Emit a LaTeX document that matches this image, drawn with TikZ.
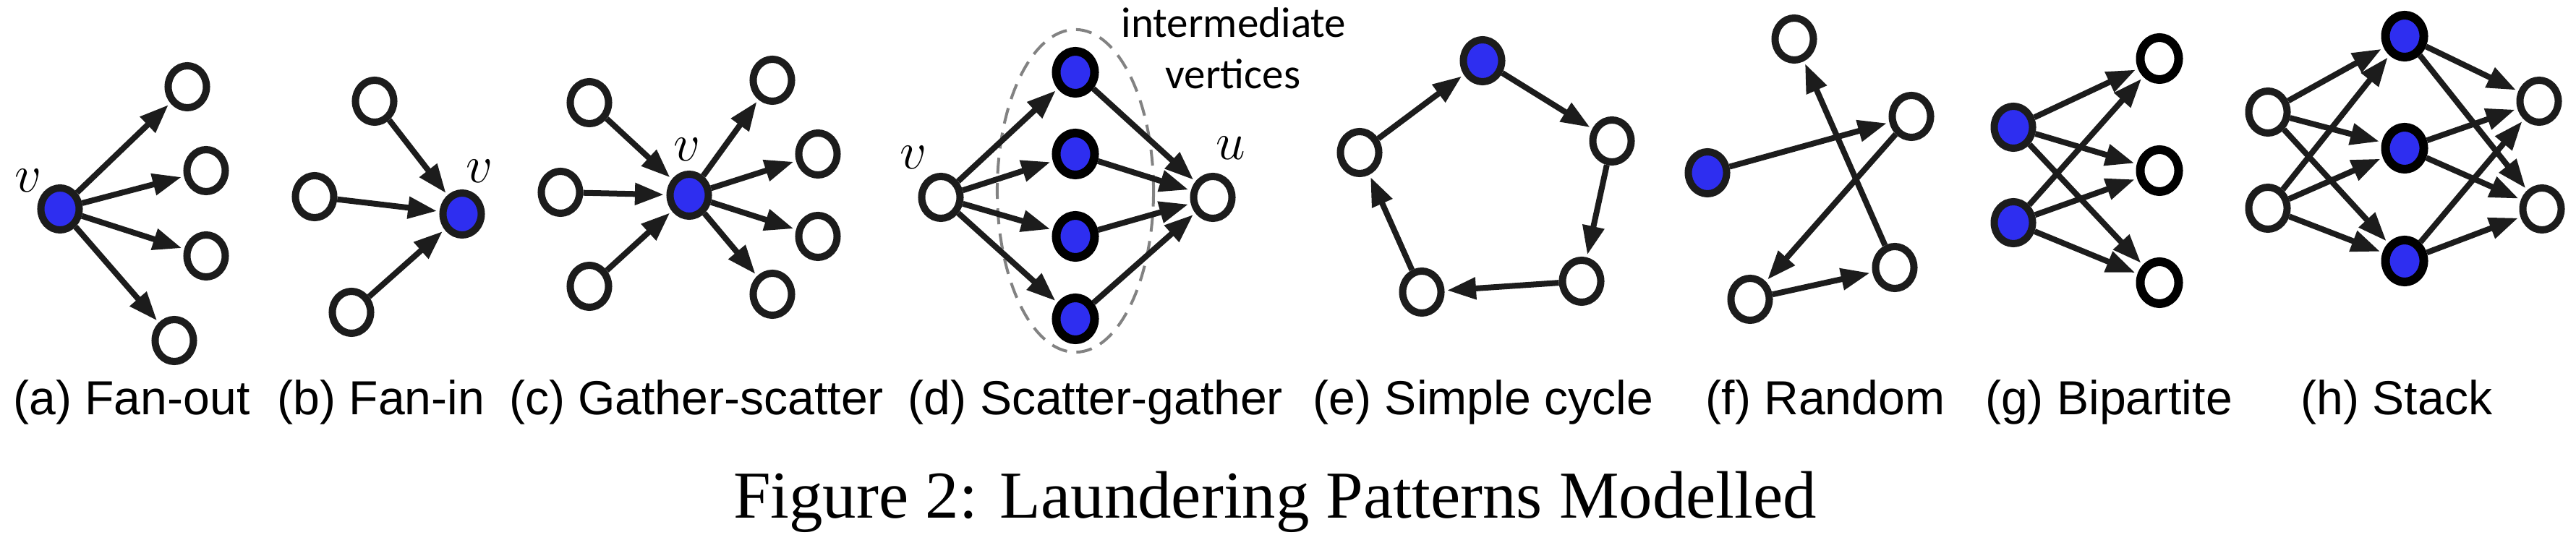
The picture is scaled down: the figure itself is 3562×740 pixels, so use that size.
\documentclass[tikz,border=0pt]{standalone}
\usepackage{fontspec}
\setmainfont{Liberation Serif}
\newfontfamily\capfont{Liberation Sans}
\newfontfamily\notefont{Carlito}
\usetikzlibrary{arrows.meta,shapes.geometric}
\definecolor{vblue}{RGB}{46,46,240}
\definecolor{ink}{RGB}{28,28,28}
\definecolor{ringgray}{RGB}{130,130,130}

\tikzset{
	vert/.style={ellipse, draw=ink, line width=0.1cm, fill=white, minimum width=0.53cm, minimum height=0.58cm, inner sep=0pt},
	hot/.style={vert, fill=vblue},
	bold/.style={draw=black, line width=0.12cm},
	edge/.style={draw=ink, line width=0.08cm, -{Triangle[length=0.4cm,width=0.29cm]}, shorten >=1pt},
	sublabel/.style={font=\capfont\fontsize{18.8}{22}\selectfont, anchor=base},
	mathlabel/.style={font=\fontsize{21}{25}\selectfont, inner sep=0pt},
}

\begin{document}
\begin{tikzpicture}[x=0.01cm, y=-0.01cm]
	\useasboundingbox (0,0) rectangle (3562,740);

	% (a) Fan-out
	\node[hot] (av) at (83,289) {};
	\node[vert] (a1) at (259,120) {};
	\node[vert] (a2) at (285,236) {};
	\node[vert] (a3) at (285,354) {};
	\node[vert] (a4) at (241,471) {};
	\node[mathlabel] (av_tag) at (39,250) {$v$};
	\foreach \t in {a1,a2,a3,a4}
		\draw[edge] (av) -- (\t);

	% (b) Fan-in
	\node[hot] (bv) at (639,296) {};
	\node[vert] (b1) at (518,140) {};
	\node[vert] (b2) at (435,272) {};
	\node[vert] (b3) at (486,432) {};
	\node[mathlabel] (bv_tag) at (663,237) {$v$};
	\foreach \s in {b1,b2,b3}
		\draw[edge] (\s) -- (bv);

	% (c) Gather-scatter
	\node[hot] (cv) at (953,270) {};
	\node[vert] (c1) at (815,142) {};
	\node[vert] (c2) at (775,266) {};
	\node[vert] (c3) at (815,396) {};
	\node[vert] (c4) at (1068,111) {};
	\node[vert] (c5) at (1131,213) {};
	\node[vert] (c6) at (1131,327) {};
	\node[vert] (c7) at (1068,407) {};
	\node[mathlabel] (cv_tag) at (950,207) {$v$};
	\foreach \s in {c1,c2,c3}
		\draw[edge] (\s) -- (cv);
	\foreach \t in {c4,c5,c6,c7}
		\draw[edge] (cv) -- (\t);

	% (d) Scatter-gather
	\node[draw=ringgray, line width=0.04cm, dash pattern=on 0.22cm off 0.13cm, ellipse, minimum width=2.16cm, minimum height=4.46cm] (group) at (1487,264) {};
	\node[vert] (dv) at (1301,273) {};
	\node[vert] (du) at (1677,273) {};
	\foreach \i/\y in {1/100,2/213,3/327,4/441}
		\node[hot, bold] (d\i) at (1487,\y) {};
	\node[mathlabel] (dv_tag) at (1263,218) {$v$};
	\node[mathlabel] (du_tag) at (1702,205) {$u$};
	\foreach \i in {1,...,4} {
		\draw[edge] (dv) -- (d\i);
		\draw[edge] (d\i) -- (du);
	}
	\node[font=\notefont\fontsize{16.8}{20}\selectfont, anchor=base] (note1) at (1706,52) {intermediate};
	\node[font=\notefont\fontsize{16.8}{20}\selectfont, anchor=base] (note2) at (1705,123) {vertices};

	% (e) Simple cycle
	\node[hot] (e1) at (2050,84) {};
	\node[vert] (e2) at (2229,195) {};
	\node[vert] (e3) at (2187,389) {};
	\node[vert] (e4) at (1966,404) {};
	\node[vert] (e5) at (1880,211) {};
	\draw[edge] (e1) -- (e2);
	\draw[edge] (e2) -- (e3);
	\draw[edge] (e3) -- (e4);
	\draw[edge] (e4) -- (e5);
	\draw[edge] (e5) -- (e1);

	% (f) Random
	\node[hot] (f1) at (2361,239) {};
	\node[vert] (f2) at (2643,161) {};
	\node[vert] (f3) at (2420,414) {};
	\node[vert] (f4) at (2620,370) {};
	\node[vert] (f5) at (2481,54) {};
	\draw[edge] (f1) -- (f2);
	\draw[edge] (f2) -- (f3);
	\draw[edge] (f3) -- (f4);
	\draw[edge] (f4) -- (f5);

	% (g) Bipartite
	\node[hot] (g1) at (2784,176) {};
	\node[hot] (g2) at (2784,308) {};
	\node[vert, bold] (g3) at (2986,81) {};
	\node[vert, bold] (g4) at (2986,236) {};
	\node[vert, bold] (g5) at (2986,391) {};
	\foreach \s in {g1,g2}
		\foreach \t in {g3,g4,g5}
			\draw[edge] (\s) -- (\t);

	% (h) Stack
	\node[vert] (h1) at (3136,155) {};
	\node[vert] (h2) at (3136,288) {};
	\node[hot, bold] (h3) at (3325,50) {};
	\node[hot, bold] (h4) at (3325,205) {};
	\node[hot, bold] (h5) at (3325,361) {};
	\node[vert] (h6) at (3511,140) {};
	\node[vert] (h7) at (3515,289) {};
	\foreach \m in {h3,h4,h5} {
		\foreach \s in {h1,h2}
			\draw[edge] (\s) -- (\m);
		\foreach \t in {h6,h7}
			\draw[edge] (\m) -- (\t);
	}

	% Sub-captions
	\node[sublabel] (cap_a) at (182,574) {(a) Fan-out};
	\node[sublabel] (cap_b) at (527,574) {(b) Fan-in};
	\node[sublabel] (cap_c) at (963,574) {(c) Gather-scatter};
	\node[sublabel] (cap_d) at (1515,574) {(d) Scatter-gather};
	\node[sublabel] (cap_e) at (2051,574) {(e) Simple cycle};
	\node[sublabel] (cap_f) at (2524,574) {(f) Random};
	\node[sublabel] (cap_g) at (2916,574) {(g) Bipartite};
	\node[sublabel] (cap_h) at (3314,574) {(h) Stack};

	% Caption
	\node[font=\fontsize{26.4}{32}\selectfont, anchor=base] (caption) at (1763,717) {Figure 2: Laundering Patterns Modelled};
\end{tikzpicture}
\end{document}
